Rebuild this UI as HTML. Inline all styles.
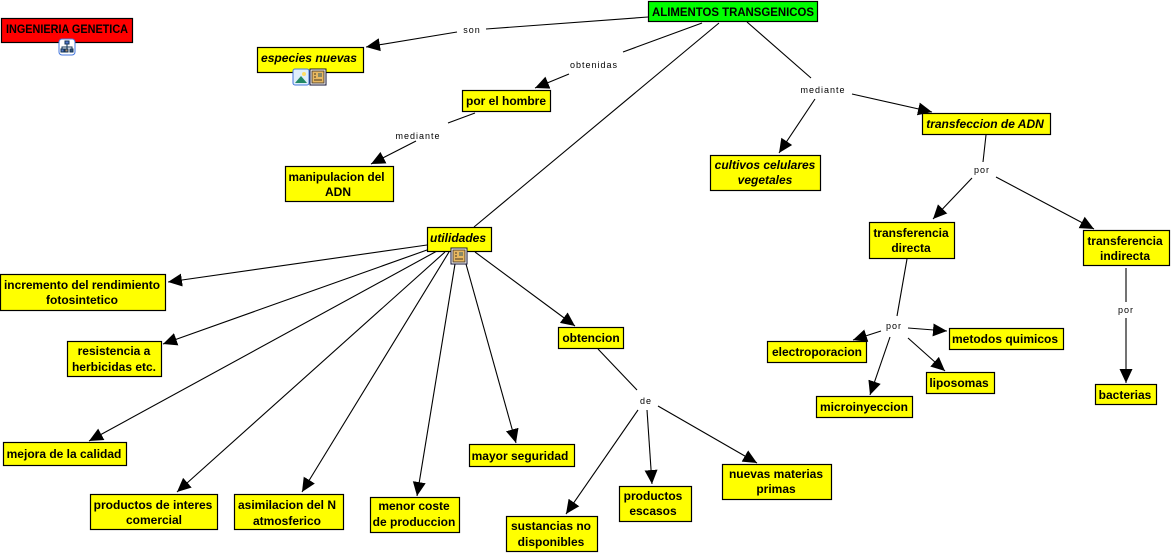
<!DOCTYPE html>
<html><head><meta charset="utf-8"><style>
html,body{margin:0;padding:0;background:#fff;width:1172px;height:554px;overflow:hidden}
svg{display:block}
.n{stroke:#000;stroke-width:1.2}
text{font-family:"Liberation Sans",sans-serif}
.t{font-size:12px;font-weight:bold;text-anchor:middle;fill:#000}
.i{font-style:italic}
.l{font-size:9px;text-anchor:middle;letter-spacing:1px;fill:#000}
</style></head><body>
<svg width="1172" height="554" viewBox="0 0 1172 554" xmlns="http://www.w3.org/2000/svg">
<defs><marker id="a" markerUnits="userSpaceOnUse" markerWidth="15" markerHeight="14" refX="14" refY="7" orient="auto"><path d="M0 0.5L14 7L0 13.5Z" fill="#000"/></marker></defs>
<g stroke="#000" stroke-width="1.1" fill="none">
<path d="M648 17L486 29"/><path d="M457 32L366 47" marker-end="url(#a)"/>
<path d="M702 23L623 52"/><path d="M569 74L535 88" marker-end="url(#a)"/>
<path d="M475 113L448 123"/><path d="M416 141L371 164" marker-end="url(#a)"/>
<path d="M719 23L474 227"/>
<path d="M747 22L811 78"/><path d="M815 99L779 153" marker-end="url(#a)"/><path d="M852 94L932 112" marker-end="url(#a)"/>
<path d="M986 135L983 162"/><path d="M972 178L933 219" marker-end="url(#a)"/><path d="M996 177L1094 229" marker-end="url(#a)"/>
<path d="M907 259L897 316"/><path d="M881 331L853 340" marker-end="url(#a)"/><path d="M908 328L947 331" marker-end="url(#a)"/><path d="M908 338L945 371" marker-end="url(#a)"/><path d="M890 337L870 395" marker-end="url(#a)"/>
<path d="M1126 268L1126 302"/><path d="M1126 318L1126 383" marker-end="url(#a)"/>
<path d="M598 349L637 390"/><path d="M638 410L566 514" marker-end="url(#a)"/><path d="M647 410L652 484" marker-end="url(#a)"/><path d="M658 406L757 463" marker-end="url(#a)"/>
<path d="M427 245L168 282" marker-end="url(#a)"/><path d="M427 250L163 344" marker-end="url(#a)"/><path d="M437 251L89 441" marker-end="url(#a)"/><path d="M445 252L177 492" marker-end="url(#a)"/><path d="M449 252L302 492" marker-end="url(#a)"/><path d="M455 264L417 496" marker-end="url(#a)"/><path d="M466 264L516 443" marker-end="url(#a)"/><path d="M475 252L575 326" marker-end="url(#a)"/>
</g>
<g class="n">
<rect x="1.5" y="18.5" width="131" height="24" fill="#f00"/>
<rect x="648.5" y="1.5" width="169" height="20" fill="#0f0" stroke="#000"/>
<g fill="#ff0">
<rect x="257.5" y="47.5" width="106" height="25"/>
<rect x="285.5" y="166.5" width="108" height="35"/>
<rect x="462.5" y="90.5" width="88" height="21"/>
<rect x="710.5" y="155.5" width="110" height="35"/>
<rect x="922.5" y="113.5" width="128" height="21"/>
<rect x="427.5" y="227.5" width="64" height="24"/>
<rect x="0.5" y="274.5" width="165" height="36"/>
<rect x="67.5" y="341.5" width="94" height="35"/>
<rect x="3.5" y="442.5" width="123" height="23"/>
<rect x="90.5" y="494.5" width="127" height="35"/>
<rect x="234.5" y="494.5" width="109" height="35"/>
<rect x="370.5" y="497.5" width="89" height="35"/>
<rect x="469.5" y="444.5" width="105" height="22"/>
<rect x="558.5" y="327.5" width="65" height="21"/>
<rect x="506.5" y="516.5" width="91" height="35"/>
<rect x="619.5" y="486.5" width="72" height="35"/>
<rect x="722.5" y="464.5" width="109" height="35"/>
<rect x="869.5" y="222.5" width="85" height="36"/>
<rect x="1083.5" y="230.5" width="86" height="35"/>
<rect x="767.5" y="341.5" width="99" height="21"/>
<rect x="949.5" y="328.5" width="114" height="21"/>
<rect x="926.5" y="372.5" width="68" height="21"/>
<rect x="816.5" y="396.5" width="96" height="21"/>
<rect x="1095.5" y="384.5" width="61" height="20"/>
</g></g>
<text class="t" x="67" y="33" textLength="122" lengthAdjust="spacingAndGlyphs">INGENIERIA GENETICA</text>
<text class="t" x="733" y="16" textLength="162" lengthAdjust="spacingAndGlyphs">ALIMENTOS TRANSGENICOS</text>
<text class="t i" x="309" y="62" textLength="96" lengthAdjust="spacingAndGlyphs">especies nuevas</text>
<text class="t" x="336.5" y="181" textLength="96" lengthAdjust="spacingAndGlyphs">manipulacion del</text><text class="t" x="338" y="196">ADN</text>
<text class="t" x="506" y="105">por el hombre</text>
<text class="t i" x="765" y="169">cultivos celulares</text><text class="t i" x="765" y="184">vegetales</text>
<text class="t i" x="985" y="128">transfeccion de ADN</text>
<text class="t i" x="458" y="242">utilidades</text>
<text class="t" x="82" y="289" textLength="156" lengthAdjust="spacingAndGlyphs">incremento del rendimiento</text><text class="t" x="82" y="304">fotosintetico</text>
<text class="t" x="114" y="355">resistencia a</text><text class="t" x="114" y="371">herbicidas etc.</text>
<text class="t" x="64" y="458">mejora de la calidad</text>
<text class="t" x="153" y="509">productos de interes</text><text class="t" x="154" y="524">comercial</text>
<text class="t" x="287" y="509">asimilacion del N</text><text class="t" x="287" y="525">atmosferico</text>
<text class="t" x="414" y="510">menor coste</text><text class="t" x="414" y="526">de produccion</text>
<text class="t" x="520" y="460">mayor seguridad</text>
<text class="t" x="591" y="342">obtencion</text>
<text class="t" x="551" y="530">sustancias no</text><text class="t" x="551" y="546">disponibles</text>
<text class="t" x="653" y="500">productos</text><text class="t" x="653" y="515">escasos</text>
<text class="t" x="776" y="478">nuevas materias</text><text class="t" x="776" y="493">primas</text>
<text class="t" x="911" y="237">transferencia</text><text class="t" x="911" y="252">directa</text>
<text class="t" x="1125" y="245">transferencia</text><text class="t" x="1125" y="260">indirecta</text>
<text class="t" x="817" y="356">electroporacion</text>
<text class="t" x="1005" y="343">metodos quimicos</text>
<text class="t" x="959" y="387">liposomas</text>
<text class="t" x="864" y="411">microinyeccion</text>
<text class="t" x="1125" y="399">bacterias</text>
<text class="l" x="472" y="33">son</text>
<text class="l" x="594" y="68">obtenidas</text>
<text class="l" x="418" y="139">mediante</text>
<text class="l" x="823" y="93">mediante</text>
<text class="l" x="982" y="173">por</text>
<text class="l" x="894" y="329">por</text>
<text class="l" x="1126" y="313">por</text>
<text class="l" x="646" y="404">de</text>
<g stroke-width="1">
<rect x="59" y="39" width="16" height="16" rx="3" fill="#fff" stroke="#47d"/>
<path d="M67 42v8M62 50v-3h10v3" fill="none" stroke="#135"/><rect x="65" y="41" width="4" height="3" fill="#57c" stroke="#135"/><rect x="61" y="49" width="3" height="3" fill="#57c" stroke="#135"/><rect x="65" y="49" width="3" height="3" fill="#a86" stroke="#135"/><rect x="70" y="49" width="3" height="3" fill="#357" stroke="#135"/>
<rect x="293" y="69" width="16" height="16" rx="2" fill="#dfeefa" stroke="#47d"/>
<path d="M295 83l6-7 6 7z" fill="#286"/><circle cx="304" cy="74" r="2" fill="#fd6"/>
<rect x="310" y="69" width="16" height="16" fill="#fff" stroke="#113"/><rect x="312" y="71" width="12" height="12" fill="#e8b860" stroke="#543"/><rect x="318" y="73" width="4" height="4" fill="#886"/><path d="M314 74h2M314 77h2M314 80h8" stroke="#432"/>
<rect x="451" y="248" width="16" height="16" fill="#fff" stroke="#113"/><rect x="453" y="250" width="12" height="12" fill="#e8b860" stroke="#543"/><rect x="459" y="252" width="4" height="4" fill="#886"/><path d="M455 253h2M455 256h2M455 259h8" stroke="#432"/>
</g>
</svg>
</body></html>
